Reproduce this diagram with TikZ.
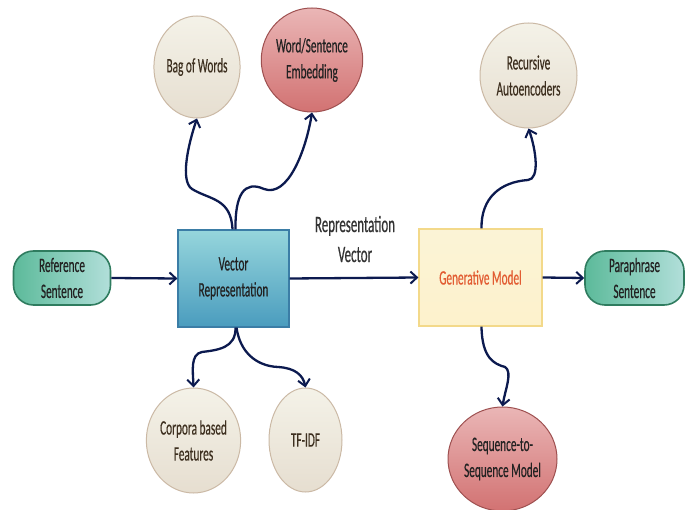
\documentclass[tikz,border=0pt]{standalone}
\usepackage{fontspec}
\setmainfont{Carlito}[FakeStretch=0.55,FakeBold=0.4]
\usetikzlibrary{shapes.geometric,arrows.meta}
\definecolor{arrowc}{HTML}{0C1A4F}
\definecolor{txtc}{HTML}{222222}
\definecolor{brownt}{HTML}{3D2F1F}
\tikzset{
  x=1pt,y=-1pt,
  conn/.style={draw=arrowc,line width=2.3pt,-{Straight Barb[length=6.5pt,width=12pt,line width=2pt]}},
  greenbox/.style={rounded corners=20pt,draw={rgb,255:red,47;green,124;blue,95},line width=1.6pt,
     left color={rgb,255:red,92;green,186;blue,154},right color={rgb,255:red,178;green,223;blue,218},
     minimum width=97pt,minimum height=54pt,inner sep=0pt,align=center,text=txtc,
     font=\fontsize{20.5}{26}\selectfont},
  bluebox/.style={rectangle,draw={rgb,255:red,59;green,125;blue,166},line width=1.2pt,
     top color={rgb,255:red,150;green,214;blue,220},bottom color={rgb,255:red,74;green,156;blue,190},
     minimum width=111pt,minimum height=97pt,inner sep=0pt,align=center,text=txtc,
     font=\fontsize{20.5}{26}\selectfont},
  yellowbox/.style={rectangle,draw={rgb,255:red,243;green,217;blue,138},line width=1.2pt,
     top color={rgb,255:red,251;green,243;blue,214},bottom color={rgb,255:red,253;green,242;blue,204},
     minimum width=123pt,minimum height=97pt,inner sep=0pt,align=center,
     text={rgb,255:red,226;green,92;blue,50},font=\fontsize{20.5}{26}\selectfont},
  beigeell/.style={ellipse,draw={rgb,255:red,203;green,185;blue,165},line width=1pt,
     top color={rgb,255:red,244;green,242;blue,232},bottom color={rgb,255:red,230;green,222;blue,208},
     inner sep=0pt,align=center,text=brownt,font=\fontsize{20.5}{26}\selectfont},
  redell/.style={ellipse,draw={rgb,255:red,158;green,80;blue,80},line width=1pt,
     top color={rgb,255:red,234;green,182;blue,182},bottom color={rgb,255:red,210;green,114;blue,114},
     inner sep=0pt,align=center,text=txtc,font=\fontsize{20.5}{26}\selectfont},
}
\begin{document}
\begin{tikzpicture}
\path[use as bounding box,fill=white] (0,0) rectangle (691,510);

\node[greenbox] (ref) at (62,278) {Reference\\Sentence};
\node[bluebox] (vr) at (233.5,278.5) {Vector\\Representation};
\node[yellowbox] (gm) at (480.5,277.5) {Generative Model};
\node[greenbox,minimum width=99pt] (ps) at (634.5,278) {Paraphrase\\Sentence};

\node[align=center,text={rgb,255:red,51;green,51;blue,51},font=\fontsize{23.5}{30}\selectfont] (rv) at (355,239) {Representation\\Vector};

\node[beigeell,minimum width=84pt,minimum height=102pt] (bow) at (197,67) {Bag of Words};
\node[redell,minimum width=92pt,minimum height=104pt] (emb) at (312,60) {Word/Sentence\\Embedding};
\node[beigeell,minimum width=97pt,minimum height=105pt] (ra) at (528.5,75.5) {Recursive\\Autoencoders};
\node[beigeell,minimum width=93pt,minimum height=105pt] (cbf) at (193.5,440.5) {Corpora based\\Features};
\node[beigeell,minimum width=73pt,minimum height=104pt] (tfidf) at (305.5,440) {TF-IDF};
\node[redell,minimum width=109pt,minimum height=104pt] (seq) at (502.5,459) {Sequence-to-\\Sequence Model};

\draw[conn] (ref.east) -- (vr.west);
\draw[conn] (vr.east) -- (gm.west);
\draw[conn] (gm.east) -- (ps.west);

\draw[conn] ([xshift=-1pt]vr.north) .. controls (231,198) and (210,200) .. (192,189)
   .. controls (180,181) and (188,145) .. (bow.south);
\draw[conn] ([xshift=2pt]vr.north) .. controls (235,195) and (244,180) .. (264,189)
   .. controls (288,198) and (306,150) .. (emb.south);
\draw[conn] ([xshift=2pt]vr.south) .. controls (236,348) and (218,350) .. (202,352)
   .. controls (190,354) and (193,372) .. (cbf.north);
\draw[conn] ([xshift=3pt]vr.south) .. controls (240,352) and (256,366) .. (278,367)
   .. controls (295,368) and (303,375) .. (tfidf.north);
\draw[conn] ([xshift=1pt]gm.north) .. controls (481,198) and (500,182) .. (528,180)
   .. controls (540,179) and (536,150) .. (ra.south);
\draw[conn] ([xshift=1pt]gm.south) .. controls (482,358) and (494,364) .. (505,367)
   .. controls (513,372) and (505,390) .. (seq.north);
\end{tikzpicture}
\end{document}
